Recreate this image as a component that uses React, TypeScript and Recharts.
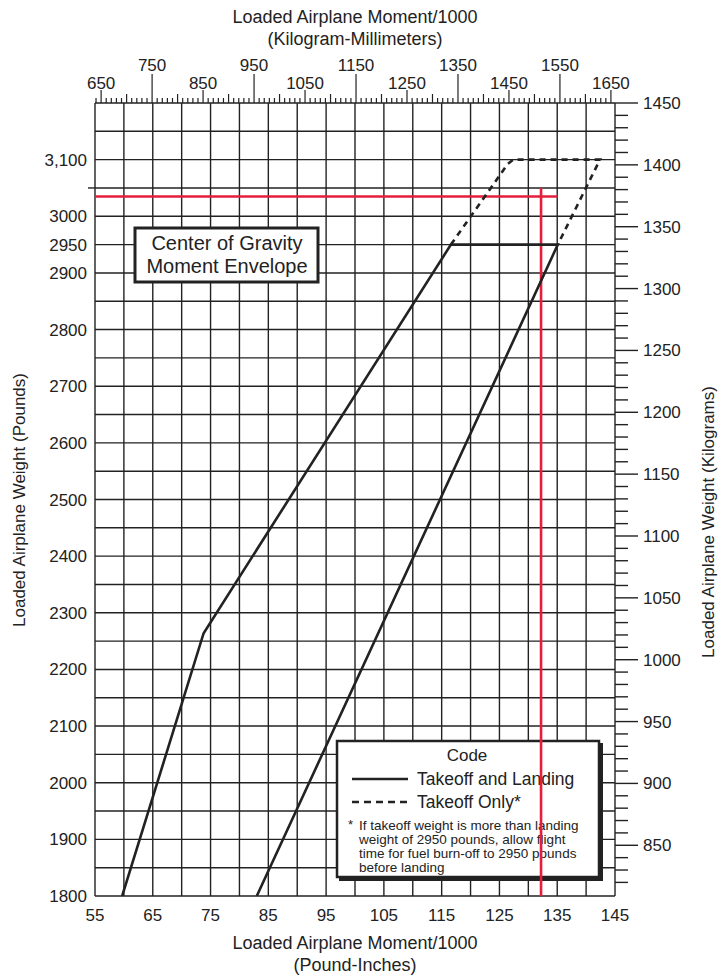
import React from 'react'
import { LineChart, Line, XAxis, YAxis, CartesianGrid } from 'recharts'

// moment (lb-in / 1000) vs weight (lb)
const envelopeMoment = [83, 135.1, 116.6, 73.8, 59.7]
const envelopeWeight = [1800, 2950, 2950, 2264, 1800]

const takeoffOnlyMoment = [116.6, 126.4, 127.4, 142.4, 135.1]
const takeoffOnlyWeight = [2950, 3092, 3100, 3100, 2950]

const sampleWeightMoment = [55, 135.1]
const sampleWeightWeight = [3035, 3035]
const sampleMomentMoment = [132.2, 132.2]
const sampleMomentWeight = [3050, 1800]

const momentTicks = [55, 60, 65, 70, 75, 80, 85, 90, 95, 100, 105, 110, 115, 120, 125, 130, 135, 140, 145]
const momentLabels = [55, 65, 75, 85, 95, 105, 115, 125, 135, 145]

const weightTicks = [
  1800, 1850, 1900, 1950, 2000, 2050, 2100, 2150, 2200, 2250, 2300, 2350, 2400, 2450, 2500,
  2550, 2600, 2650, 2700, 2750, 2800, 2850, 2900, 2950, 3000, 3050, 3100, 3150, 3200,
]
const weightLabelValues = [1800, 1900, 2000, 2100, 2200, 2300, 2400, 2500, 2600, 2700, 2800, 2900, 2950, 3000, 3100]
const weightLabelTexts = ['1800', '1900', '2000', '2100', '2200', '2300', '2400', '2500', '2600', '2700', '2800', '2900', '2950', '3000', '3,100']

const kgmmUpperLabels = [750, 950, 1150, 1350, 1550]
const kgmmLowerLabels = [650, 850, 1050, 1250, 1450, 1650]
const kgLabels = [850, 900, 950, 1000, 1050, 1100, 1150, 1200, 1250, 1300, 1350, 1400, 1450]

const steps = (from: number, to: number, step: number) => {
  const out: number[] = []
  for (let v = from; v <= to + 1e-9; v += step) out.push(Math.round(v))
  return out
}
const kgmmTicks = steps(640, 1650, 10)
const kgTicks = steps(820, 1450, 10)
// rows for the kg-mm ruler on top
const kgmmRows = kgmmTicks.map((v) => ({ kgmm: v }))

const toPoints = (xs: number[], ys: number[]) => xs.map((x, i) => ({ m: x, w: ys[i] }))

const INK = '#222'
const RED = '#e41e3b'
const FONT = '"Liberation Sans", Arial, Helvetica, sans-serif'
const TICK_FS = 17

const BottomTick = (p: any) => {
  const v = p.payload.value
  if (!momentLabels.includes(v)) return <g />
  return (
    <text x={p.x} y={p.y + 25} textAnchor="middle" fontSize={TICK_FS} fill={INK} fontFamily={FONT}>
      {v}
    </text>
  )
}

const LeftTick = (p: any) => {
  const v = p.payload.value
  const i = weightLabelValues.indexOf(v)
  if (v === 3050) return <line x1={p.x - 7} x2={p.x} y1={p.y} y2={p.y} stroke={INK} strokeWidth={1.4} />
  if (i < 0) return <g />
  return (
    <text x={p.x - 8} y={p.y + 6} textAnchor="end" fontSize={TICK_FS} fill={INK} fontFamily={FONT}>
      {weightLabelTexts[i]}
    </text>
  )
}

const RightTick = (p: any) => {
  const v = p.payload.value
  const major = kgLabels.includes(v)
  return (
    <g>
      <line x1={p.x} x2={p.x + (major ? 23 : 13)} y1={p.y} y2={p.y} stroke={INK} strokeWidth={1.4} />
      {major && (
        <text x={p.x + 28} y={p.y + 6} textAnchor="start" fontSize={TICK_FS} fill={INK} fontFamily={FONT}>
          {v}
        </text>
      )}
    </g>
  )
}

const TopTick = (p: any) => {
  const v = p.payload.value
  const upper = kgmmUpperLabels.includes(v)
  const lower = kgmmLowerLabels.includes(v)
  const len = upper ? 29 : lower ? 13 : v % 100 === 0 ? 9 : 5
  return (
    <g>
      <line x1={p.x} x2={p.x} y1={103} y2={103 - len} stroke={INK} strokeWidth={1.2} />
      {(upper || lower) && (
        <text x={p.x} y={upper ? 71 : 89} textAnchor="middle" fontSize={TICK_FS} fill={INK} fontFamily={FONT}>
          {v}
        </text>
      )}
    </g>
  )
}

export default function App() {
  return (
    <div style={{ position: 'absolute', left: 0, top: 0, background: '#fff' }}>
      <LineChart width={718} height={977} data={kgmmRows} margin={{ top: 0, right: 0, bottom: 0, left: 0 }}>
        <CartesianGrid stroke={INK} strokeWidth={1.4} fill="none" />
        <XAxis
          dataKey="m"
          type="number"
          domain={[55, 145]}
          ticks={momentTicks}
          interval={0}
          height={81}
          tickSize={0}
          tickMargin={0}
          axisLine={false}
          tickLine={false}
          tick={BottomTick}
          allowDataOverflow
        />
        <XAxis
          xAxisId="top"
          dataKey="kgmm"
          orientation="top"
          type="number"
          domain={[638, 1658]}
          ticks={kgmmTicks}
          interval={0}
          height={103}
          tickSize={0}
          tickMargin={0}
          axisLine={false}
          tickLine={false}
          tick={TopTick}
          allowDataOverflow
        />
        <YAxis
          dataKey="w"
          type="number"
          domain={[1800, 3200]}
          ticks={weightTicks}
          interval={0}
          width={95}
          tickSize={0}
          tickMargin={0}
          axisLine={false}
          tickLine={false}
          tick={LeftTick}
          allowDataOverflow
        />
        <YAxis
          yAxisId="kg"
          orientation="right"
          type="number"
          domain={[809, 1450]}
          ticks={kgTicks}
          interval={0}
          width={103}
          tickSize={0}
          tickMargin={0}
          axisLine={false}
          tickLine={false}
          tick={RightTick}
          allowDataOverflow
        />
        <Line
          data={toPoints(sampleWeightMoment, sampleWeightWeight)}
          dataKey="w"
          stroke={RED}
          strokeWidth={2.6}
          dot={false}
          activeDot={false}
          isAnimationActive={false}
        />
        <Line
          data={toPoints(sampleMomentMoment, sampleMomentWeight)}
          dataKey="w"
          stroke={RED}
          strokeWidth={2.6}
          dot={false}
          activeDot={false}
          isAnimationActive={false}
        />
        <Line
          data={toPoints(envelopeMoment, envelopeWeight)}
          dataKey="w"
          stroke={INK}
          strokeWidth={2.6}
          dot={false}
          activeDot={false}
          isAnimationActive={false}
        />
        <Line
          data={toPoints(takeoffOnlyMoment, takeoffOnlyWeight)}
          dataKey="w"
          stroke={INK}
          strokeWidth={2.6}
          strokeDasharray="6 5"
          dot={false}
          activeDot={false}
          isAnimationActive={false}
        />

        {/* axis titles */}
        <g fontFamily={FONT} fill={INK}>
          <text x={355} y={23} textAnchor="middle" fontSize={18}>Loaded Airplane Moment/1000</text>
          <text x={355} y={45} textAnchor="middle" fontSize={18}>(Kilogram-Millimeters)</text>
          <text x={355} y={949} textAnchor="middle" fontSize={18}>Loaded Airplane Moment/1000</text>
          <text x={355} y={971} textAnchor="middle" fontSize={18}>(Pound-Inches)</text>
          <text x={25} y={500} textAnchor="middle" fontSize={17} transform="rotate(-90 25 500)">
            Loaded Airplane Weight (Pounds)
          </text>
          <text x={714} y={522} textAnchor="middle" fontSize={17} transform="rotate(-90 714 522)">
            Loaded Airplane Weight (Kilograms)
          </text>
        </g>

        {/* title box */}
        <g fontFamily={FONT} fill={INK}>
          <rect x={135} y={228} width={183} height={54} fill="#fff" stroke={INK} strokeWidth={3} />
          <text x={227} y={250} textAnchor="middle" fontSize={20}>Center of Gravity</text>
          <text x={227} y={273} textAnchor="middle" fontSize={20}>Moment Envelope</text>
        </g>

        {/* code box */}
        <g fontFamily={FONT} fill={INK}>
          <rect x={339} y={743} width={264} height={138} fill={INK} />
          <rect x={337} y={741} width={262} height={136} fill="#fff" stroke={INK} strokeWidth={2.5} />
          <text x={467} y={761} textAnchor="middle" fontSize={17}>Code</text>
          <line x1={352} x2={408} y1={779} y2={779} stroke={INK} strokeWidth={2.5} />
          <text x={417} y={785} fontSize={17.5}>Takeoff and Landing</text>
          <line x1={352} x2={408} y1={802} y2={802} stroke={INK} strokeWidth={2.5} strokeDasharray="7 5" />
          <text x={417} y={808} fontSize={17.5}>Takeoff Only*</text>
          <text x={348} y={829} fontSize={13}>*</text>
          <text x={359} y={830} fontSize={13.5}>If takeoff weight is more than landing</text>
          <text x={359} y={844} fontSize={13.5}>weight of 2950 pounds, allow flight</text>
          <text x={359} y={858} fontSize={13.5}>time for fuel burn-off to 2950 pounds</text>
          <text x={359} y={872} fontSize={13.5}>before landing</text>
        </g>
      </LineChart>
    </div>
  )
}
